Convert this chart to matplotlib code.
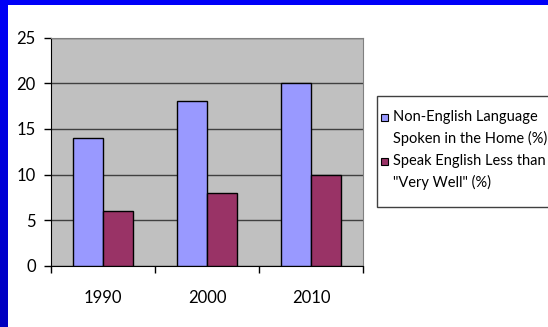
import numpy as np
import matplotlib
matplotlib.use("Agg")
import matplotlib.pyplot as plt
from matplotlib.patches import Rectangle

years = ["1990", "2000", "2010"]
non_english_home = [14, 18, 20]
speak_less_very_well = [6, 8, 10]
series_labels = ["Non-English Language\nSpoken in the Home (%)",
                 "Speak English Less than\n\"Very Well\" (%)"]
series_colors = ["#9999ff", "#993366"]
y_ticks = [0, 5, 10, 15, 20, 25]

W, H = 548, 327
plt.rcParams["font.family"] = ["Lato", "DejaVu Sans"]
fig = plt.figure(figsize=(W / 100, H / 100), dpi=100)
fig.patch.set_facecolor("white")


def fx(px):
    return px / W


def fy(py):
    return 1 - py / H


# slide frame: blue strip on top, shaded strip down the left side
top = fig.add_axes([0, fy(5), 1, 5 / H])
top.set_axis_off()
top.add_patch(Rectangle((0, 0), 1, 1, color="#0000f8", transform=top.transAxes))
left = fig.add_axes([0, 0, fx(8), 1])
left.set_axis_off()
grad = np.linspace(0, 1, 256).reshape(-1, 1)
cols = np.zeros((256, 1, 3))
cols[..., 2] = (0.97 - 0.22 * grad)
left.imshow(cols, aspect="auto", extent=[0, 1, 0, 1], origin="upper")

ax = fig.add_axes([fx(51), fy(266), fx(312), 228.5 / H])
ax.set_facecolor("#c0c0c0")
x = np.arange(len(years))
w = 1 / 3.5
ax.bar(x - w / 2, non_english_home, w, color=series_colors[0], edgecolor="black", linewidth=1, zorder=3)
ax.bar(x + w / 2, speak_less_very_well, w, color=series_colors[1], edgecolor="black", linewidth=1, zorder=3)

ax.set_xlim(-0.5, 2.5)
ax.set_ylim(0, 25)
ax.set_yticks(y_ticks)
ax.set_yticklabels([str(t) for t in y_ticks], fontsize=12)
ax.yaxis.grid(True, color="#404040", linewidth=1)
ax.set_axisbelow(True)
ax.set_xticks([-0.5, 0.5, 1.5, 2.5])
ax.set_xticklabels([])
ax.set_xticks(x, minor=True)
ax.set_xticklabels(years, minor=True, fontsize=12)
ax.tick_params(axis="x", which="minor", length=0, pad=17)
ax.tick_params(axis="x", which="major", length=5, width=1, direction="out")
ax.tick_params(axis="y", length=5, width=1, direction="out", pad=6)
for s in ["top", "right"]:
    ax.spines[s].set_color("#808080")
for s in ["left", "bottom"]:
    ax.spines[s].set_color("black")

# legend box with a swatch and two-line label per series
fig.add_artist(Rectangle((fx(376.5), fy(206.5)), fx(200), 110 / H,
                         transform=fig.transFigure, facecolor="white",
                         edgecolor="#404040", linewidth=1))
line_gap = 21
for label, color, y0 in zip(series_labels, series_colors, [117, 161]):
    fig.add_artist(Rectangle((fx(381), fy(y0 + 3.5)), fx(7), 7 / H,
                             transform=fig.transFigure, facecolor=color,
                             edgecolor="black", linewidth=0.8))
    for i, part in enumerate(label.split("\n")):
        fig.text(fx(393), fy(y0 + i * line_gap), part, fontsize=10.5,
                 ha="left", va="center", color="black")

fig.savefig("out.png", dpi=100)
